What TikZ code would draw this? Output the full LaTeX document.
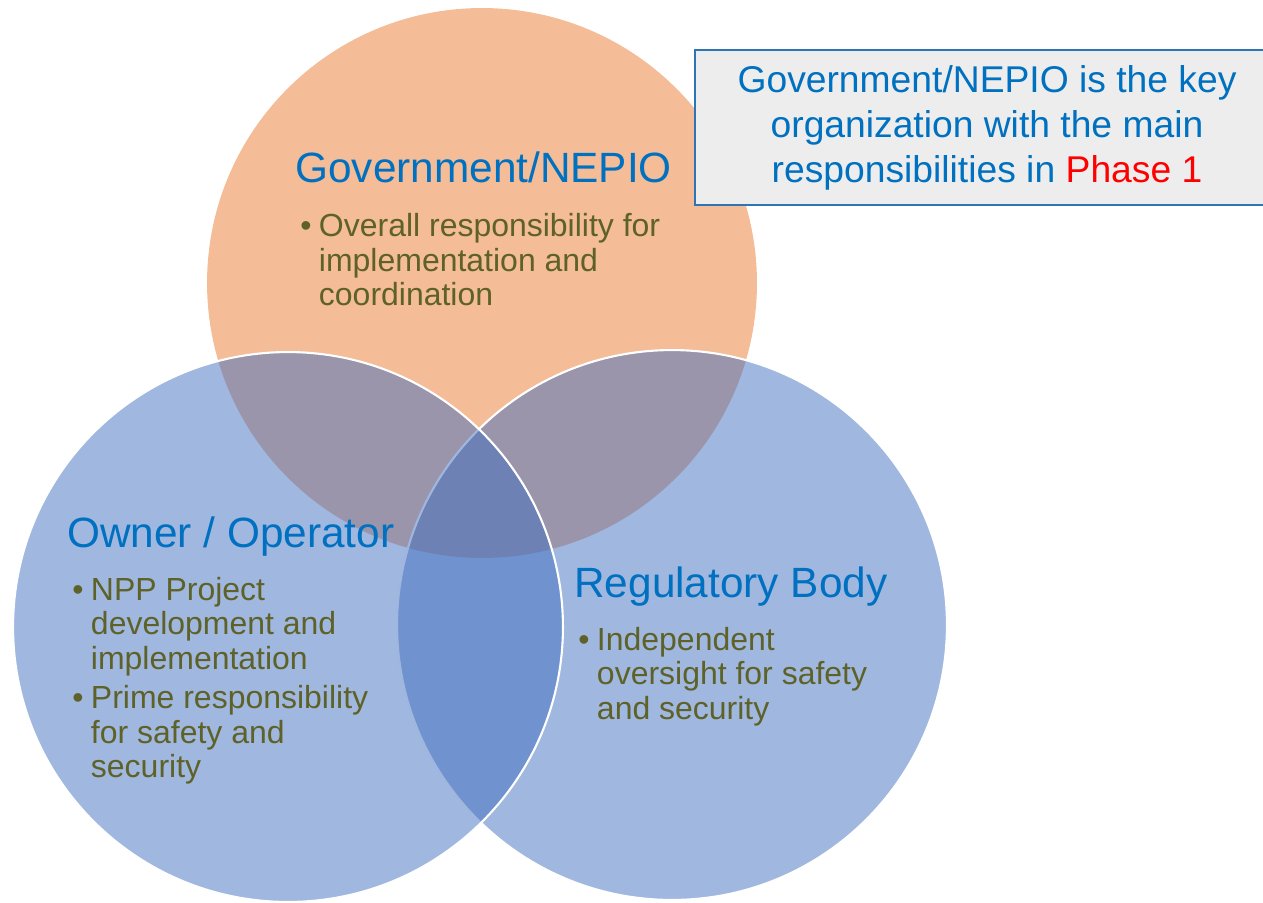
\documentclass[tikz,border=0pt]{standalone}
\usepackage{fontspec}
\setmainfont{Liberation Sans}

\definecolor{govfill}{RGB}{244,188,151}
\definecolor{vennblue}{RGB}{65,111,191}
\definecolor{titleblue}{RGB}{0,112,192}
\definecolor{bodyolive}{RGB}{94,98,40}
\definecolor{boxline}{RGB}{46,117,182}
\definecolor{boxfill}{RGB}{237,237,237}

\newcommand{\titlefont}{\fontsize{24.1}{28}\selectfont}
\newcommand{\bodyfont}{\fontsize{18.2}{19.7}\selectfont}
\newcommand{\notefont}{\fontsize{21.2}{25.6}\selectfont}

\begin{document}
\begin{tikzpicture}[
    x=0.02cm, y=-0.02cm,
    venn/.style={circle, minimum size=11cm, inner sep=0pt},
    bluevenn/.style={venn, fill=vennblue, fill opacity=0.5, draw=white, line width=1.2pt},
    title/.style={anchor=base west, inner sep=0pt, text=titleblue, font=\titlefont},
    body/.style={anchor=base west, inner sep=0pt, text=bodyolive, font=\bodyfont},
    note/.style={draw=boxline, line width=1pt, fill=boxfill, text=titleblue,
        font=\notefont, align=center, minimum width=11.68cm, minimum height=3.1cm}
]
\useasboundingbox (0,0) rectangle (1263,902);

% Circles
\node[venn, fill=govfill] (gov) at (482,283) {};
\node[bluevenn] (reg) at (672,625) {};
\node[bluevenn] (own) at (288,627) {};

% Titles
\node[title] (govtitle) at (295,183) {Government/NEPIO};
\node[title] (owntitle) at (67,547) {Owner / Operator};
\node[title] (regtitle) at (574,597) {Regulatory Body};

% Bullets
\node[body] (govbody) at (300,236.5) {\begin{tabular}[t]{@{}p{10.6pt}@{}l@{}}
\textbullet & Overall responsibility for\\
 & implementation and\\
 & coordination
\end{tabular}};
\node[body] (ownbody) at (72,600) {\begin{tabular}[t]{@{}p{10.6pt}@{}l@{}}
\textbullet & NPP Project\\
 & development and\\
 & implementation\\[2.8pt]
\textbullet & Prime responsibility\\
 & for safety and\\
 & security
\end{tabular}};
\node[body] (regbody) at (578,650) {\begin{tabular}[t]{@{}p{10.6pt}@{}l@{}}
\textbullet & Independent\\
 & oversight for safety\\
 & and security
\end{tabular}};

% Callout
\node[note] (keynote) at (987,127.5) {Government/NEPIO is the key\\
organization with the main\\
responsibilities in \textcolor{red}{Phase 1}};

\end{tikzpicture}
\end{document}
